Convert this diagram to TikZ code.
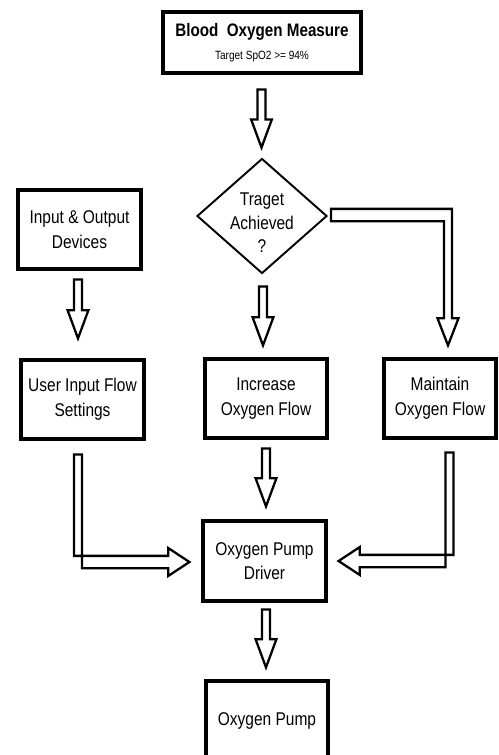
\documentclass[tikz,border=0pt]{standalone}
\usepackage{fontspec}
\setmainfont{Liberation Sans}[FakeStretch=0.84]
\usetikzlibrary{shapes.geometric,calc}

\tikzset{
  box/.style={draw, line width=1.8pt, minimum height=1.58cm, align=center,
    inner sep=2pt, font=\fontsize{10.5}{14}\selectfont},
  decision/.style={draw, diamond, line width=1.1pt, minimum width=2.6cm,
    minimum height=2.3cm, inner sep=0pt},
  blockarrow/.style={draw, line width=1.3pt, line join=miter, fill=white}
}

% straight hollow arrow pointing down, #1 = tail, #2 = tip
\newcommand{\flowdown}[2]{%
  \draw[blockarrow] let \p1=#1, \p2=#2 in
    (\x1-2.3pt,\y1) -- (\x1-2.3pt,\y2+16pt) -- (\x1-5.9pt,\y2+16pt) -- (\x1,\y2)
    -- (\x1+5.9pt,\y2+16pt) -- (\x1+2.3pt,\y2+16pt) -- (\x1+2.3pt,\y1) -- cycle;}

% hollow arrow going down then sideways, #3 = 1 (to the right) or -1
\newcommand{\flowbend}[3]{%
  \draw[blockarrow] let \p1=#1, \p2=#2 in
    ({\x1-#3*2.3pt},\y1) -- ({\x1-#3*2.3pt},\y2+3.5pt) -- ({\x2-#3*12pt},\y2+3.5pt)
    -- ({\x2-#3*12pt},\y2+7.9pt) -- (\x2,\y2) -- ({\x2-#3*12pt},\y2-7.9pt)
    -- ({\x2-#3*12pt},\y2-3.5pt) -- ({\x1+#3*2.3pt},\y2-3.5pt) -- ({\x1+#3*2.3pt},\y1) -- cycle;}

\begin{document}
\begin{tikzpicture}[x=0.02cm, y=-0.02cm]
  \useasboundingbox (0,0) rectangle (498,755);

  \node[box, minimum width=3.96cm, minimum height=1.22cm] (measure) at (262,42.5)
    {\fontsize{10.3}{11}\selectfont\textbf{Blood\ \ Oxygen Measure}\\[-1pt]
     \fontsize{6.8}{8}\selectfont Target SpO2 >= 94\%};
  \node[decision] (decide) at (262,216) {};
  \node[align=center, font=\fontsize{10.5}{13.3}\selectfont] (decidetext)
    at ($(decide.center)+(0,7)$) {Traget\\Achieved\\?};

  \node[box, minimum width=2.46cm] (devices) at (79.5,229.5) {Input \& Output\\Devices};
  \node[box, minimum width=2.46cm] (userin) at (82.5,399.5) {User Input Flow\\Settings};
  \node[box, minimum width=2.44cm] (increase) at (266,398.5) {Increase\\Oxygen Flow};
  \node[box, minimum width=2.24cm] (maintain) at (440,398.5) {Maintain\\Oxygen Flow};
  \node[box, minimum width=2.46cm, minimum height=1.6cm] (driver) at (264.5,561)
    {Oxygen Pump\\Driver};
  \node[box, minimum width=2.44cm, minimum height=1.6cm] (pump) at (267,721) {Oxygen Pump};

  \flowdown{($(measure.south)+(-0.5,15)$)}{($(decide.north)+(0,-10)$)}
  \flowdown{($(devices.south)+(-1.5,9)$)}{($(userin.north)+(0,-20)$)}
  \flowdown{($(decide.south)+(1,12)$)}{($(increase.north)+(0,-12)$)}
  \flowdown{($(increase.south)+(0,9)$)}{($(driver.north)+(0,-13)$)}
  \flowdown{($(driver.south)+(1.5,7)$)}{($(pump.north)+(0,-12)$)}

  \flowbend{($(userin.south)+(-4.5,14)$)}{($(driver.west)+(-12,1)$)}{1}
  \flowbend{($(maintain.south)+(9.5,13)$)}{($(driver.east)+(11,0)$)}{-1}

  \draw[blockarrow] let \p1=($(decide.east)+(3,-1)$), \p2=($(maintain.north)+(8,-12)$) in
    (\x1,\y1+3.5pt) -- (\x2+2.3pt,\y1+3.5pt) -- (\x2+2.3pt,\y2+15.5pt)
    -- (\x2+6pt,\y2+15.5pt) -- (\x2,\y2) -- (\x2-6pt,\y2+15.5pt)
    -- (\x2-2.3pt,\y2+15.5pt) -- (\x2-2.3pt,\y1-3.5pt) -- (\x1,\y1-3.5pt) -- cycle;
\end{tikzpicture}
\end{document}
